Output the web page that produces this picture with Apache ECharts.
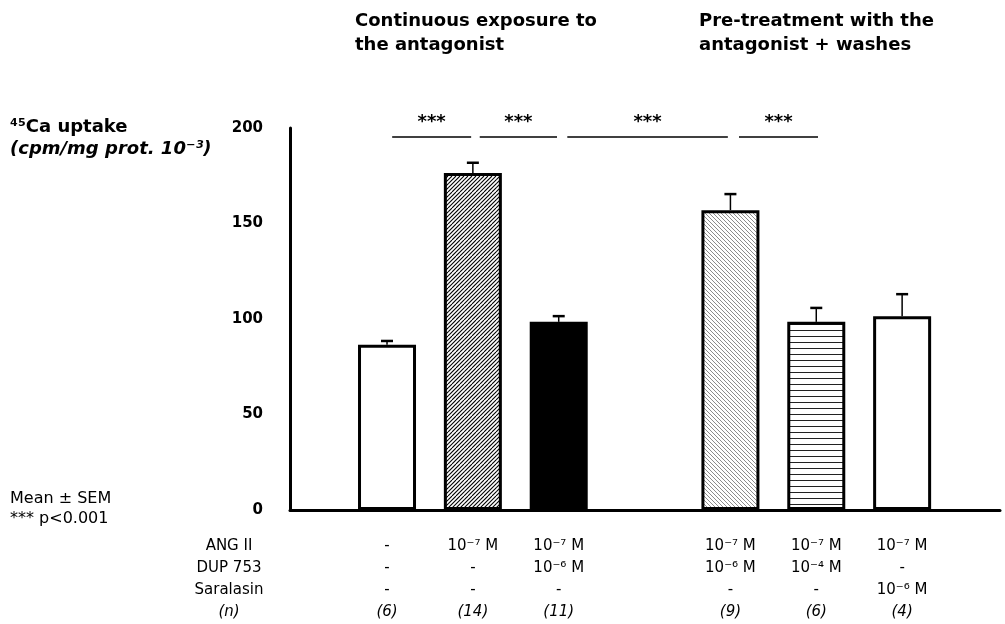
<!DOCTYPE html>
<html>
<head>
<meta charset="utf-8">
<script src="https://cdn.jsdelivr.net/npm/echarts@6/dist/echarts.min.js"></script>
<style>
	html, body { margin: 0; padding: 0; background: #fff; }
	#chart_box { width: 1005px; height: 624px; }
</style>
</head>
<body>
<div id="chart_box"></div>
<script>
/*数据*/
var barSlots = [1, 2, 3, 5, 6, 7]; // slot 4 is the gap between the two groups
var means = [86.5, 176.5, 98.5, 157, 98.5, 101.5];
var sems = [2, 5.3, 3, 8.4, 7.3, 11.5];
var angII = ['-', '10⁻⁷ M', '10⁻⁷ M', '10⁻⁷ M', '10⁻⁷ M', '10⁻⁷ M'];
var dup753 = ['-', '-', '10⁻⁶ M', '10⁻⁶ M', '10⁻⁴ M', '-'];
var saralasin = ['-', '-', '-', '-', '-', '10⁻⁶ M'];
var nCounts = [6, 14, 11, 9, 6, 4];
var rowNames = ['ANG II', 'DUP 753', 'Saralasin', '(n)'];
var sigSpans = [[1.06, 1.98], [2.08, 2.98], [3.10, 4.97], [5.10, 6.02]];
var sigLevel = 195.5;

var FONT = 'DejaVu Sans';

/*填充图案*/
function makeTile(size, draw) {
	var c = document.createElement('canvas');
	c.width = size;
	c.height = size;
	var ctx = c.getContext('2d');
	ctx.fillStyle = '#fff';
	ctx.fillRect(0, 0, size, size);
	draw(ctx, size);
	return { image: c, repeat: 'repeat' };
}
function diag(up, step, color, width) {
	return makeTile(step * 4, function(ctx, s) {
		ctx.strokeStyle = color;
		ctx.lineWidth = width;
		for(var x0 = -s; x0 <= s; x0 += step) {
			ctx.beginPath();
			if(up) {
				ctx.moveTo(x0, s);
				ctx.lineTo(x0 + s, 0);
			} else {
				ctx.moveTo(x0, 0);
				ctx.lineTo(x0 + s, s);
			}
			ctx.stroke();
		}
	});
}
var horiz = makeTile(6, function(ctx, s) {
	ctx.fillStyle = '#222';
	ctx.fillRect(0, 0, s, 1);
});
var fills = ['#fff', diag(true, 4, '#000', 1.1), '#000', diag(false, 4, '#8c8c8c', 1), horiz, '#fff'];

var barData = [];
var errData = [];
for(var i = 0; i < barSlots.length; i++) {
	barData.push({
		value: [barSlots[i], means[i]],
		itemStyle: { color: fills[i] }
	});
	errData.push([barSlots[i], means[i], sems[i]]);
}

function colLabel(v) {
	var i = barSlots.indexOf(v);
	if(i < 0) return '';
	return angII[i] + '\n' + dup753[i] + '\n' + saralasin[i] + '\n{it|(' + nCounts[i] + ')}';
}

var myChart = echarts.init(document.getElementById('chart_box'));
var option = {
	animation: false,
	title: [{
		text: 'Continuous exposure to\nthe antagonist',
		left: 355, top: 9, padding: 0,
		textStyle: { fontFamily: FONT, fontSize: 18, fontWeight: 'bold', lineHeight: 24, color: '#000' }
	}, {
		text: 'Pre-treatment with the\nantagonist + washes',
		left: 699, top: 9, padding: 0,
		textStyle: { fontFamily: FONT, fontSize: 18, fontWeight: 'bold', lineHeight: 24, color: '#000' }
	}],
	grid: { left: 290, right: 5, top: 128, bottom: 114 },
	xAxis: {
		type: 'value',
		min: -0.13,
		max: 8.14,
		splitLine: { show: false },
		axisTick: { show: false },
		axisLine: { show: true, onZero: false, lineStyle: { color: '#000', width: 3 } },
		axisLabel: {
			customValues: barSlots,
			formatter: colLabel,
			margin: 25,
			color: '#000',
			fontFamily: FONT,
			fontSize: 15,
			lineHeight: 22,
			rich: { it: { fontStyle: 'italic', fontFamily: FONT, fontSize: 15, lineHeight: 22, color: '#000' } }
		}
	},
	yAxis: {
		type: 'value',
		min: 0,
		max: 200,
		interval: 50,
		splitLine: { show: false },
		axisTick: { show: false },
		axisLine: { show: true, onZero: false, lineStyle: { color: '#000', width: 3 } },
		axisLabel: { margin: 27, color: '#000', fontFamily: FONT, fontSize: 15, fontWeight: 'bold' }
	},
	graphic: [{
		type: 'text', left: 10, top: 116,
		style: {
			text: '⁴⁵Ca uptake\n{it|(cpm/mg prot. 10⁻³)}',
			font: 'bold 18px "' + FONT + '"', lineHeight: 22, fill: '#000',
			rich: { it: { fontStyle: 'italic', fontWeight: 'bold', fontFamily: FONT, fontSize: 18, lineHeight: 22 } }
		}
	}, {
		type: 'text', left: 10, top: 489,
		style: { text: 'Mean ± SEM\n*** p<0.001', font: '16px "' + FONT + '"', lineHeight: 20, fill: '#000' }
	}, {
		type: 'text', x: 229, y: 535,
		style: {
			text: rowNames.slice(0, 3).join('\n') + '\n{it|' + rowNames[3] + '}',
			font: '15px "' + FONT + '"', lineHeight: 22, fill: '#000', align: 'center', verticalAlign: 'top',
			rich: { it: { fontStyle: 'italic', fontFamily: FONT, fontSize: 15, lineHeight: 22 } }
		}
	}],
	series: [{
		type: 'bar',
		barWidth: 58,
		data: barData,
		itemStyle: { borderColor: '#000', borderWidth: 3 },
		markLine: {
			silent: true,
			symbol: 'none',
			lineStyle: { color: '#000', width: 1.5, type: 'solid' },
			label: { show: true, position: 'middle', formatter: '***', color: '#000', fontFamily: FONT, fontSize: 18, fontWeight: 'bold', distance: 5 },
			data: sigSpans.map(function(s) {
				return [{ coord: [s[0], sigLevel] }, { coord: [s[1], sigLevel] }];
			})
		}
	}, {
		type: 'custom',
		z: 3,
		data: errData,
		renderItem: function(params, api) {
			var base = api.coord([api.value(0), api.value(1)]);
			var top = api.coord([api.value(0), api.value(1) + api.value(2)]);
			return {
				type: 'group',
				children: [{
					type: 'line',
					shape: { x1: base[0], y1: base[1], x2: base[0], y2: top[1] },
					style: { stroke: '#000', lineWidth: 1.5 }
				}, {
					type: 'line',
					shape: { x1: base[0] - 6, y1: top[1], x2: base[0] + 6, y2: top[1] },
					style: { stroke: '#000', lineWidth: 2.5 }
				}]
			};
		}
	}]
};
myChart.setOption(option);
</script>
</body>
</html>
